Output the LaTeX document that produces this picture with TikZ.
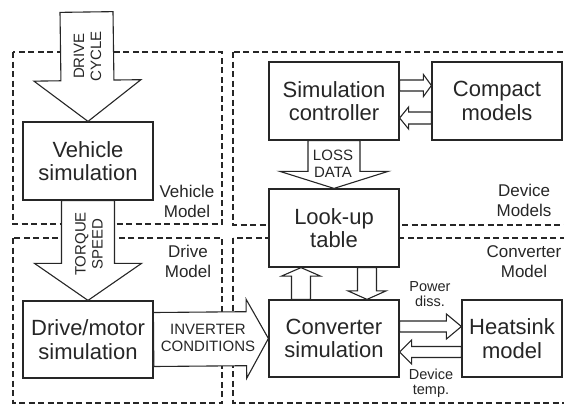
\documentclass[tikz,border=0pt]{standalone}
\usepackage{fontspec}
\setmainfont{Liberation Sans}
\usetikzlibrary{calc}
\definecolor{ink}{HTML}{262626}

% block arrow: start, tip, shaft half-width, head half-width, head length
\newcommand{\blockarrow}[5]{%
  \coordinate (ba-h) at ($(#2)!#5!(#1)$);
  \draw[barrow] ($(#1)!#3!90:(#2)$) -- ($(ba-h)!#3!90:(#2)$)
    -- ($(ba-h)!#4!90:(#2)$) -- (#2) -- ($(ba-h)!#4!-90:(#2)$)
    -- ($(ba-h)!#3!-90:(#2)$) -- ($(#1)!#3!-90:(#2)$) -- cycle;
}

\tikzset{
  zone/.style={draw=ink, line width=1.2pt, dash pattern=on 6pt off 3.5pt},
  box/.style={draw=ink, line width=1.2pt, fill=white, inner sep=0pt,
    minimum width=#1, minimum height=78pt, align=center, text=ink,
    font=\fontsize{22}{23.5}\selectfont},
  box/.default=130pt,
  barrow/.style={draw=ink, line width=1.1pt, fill=white, line join=miter},
  % multi-line labels: the base anchor sits on the last line
  zonelabel/.style={align=center, anchor=base, text=ink,
    font=\fontsize{17}{19.5}\selectfont, inner sep=0pt},
  arrowtext/.style={align=center, text=ink, inner sep=0pt,
    font=\fontsize{15}{17}\selectfont},
  smalltext/.style={align=center, anchor=base, text=ink, inner sep=0pt,
    font=\fontsize{14.5}{14.5}\selectfont},
}

\begin{document}
\begin{tikzpicture}[x=1pt, y=-1pt]
\useasboundingbox (0,0) rectangle (564,405);
\clip (0,0) rectangle (564,405);

% model zones
\draw[zone] (13,52) rectangle (222,224);
\draw[zone] (13,238) rectangle (222,403);
\draw[zone] (233,52) rectangle (600,225);
\draw[zone] (233,238) rectangle (600,403);

% blocks
\node[box] (vehsim) at (88,161) {Vehicle\\simulation};
\node[box, minimum height=77pt] (drivesim) at (88,339.5) {Drive/motor\\simulation};
\node[box] (simctrl) at (334,101) {Simulation\\controller};
\node[box] (compact) at (497,101) {Compact\\models};
\node[box] (lookup) at (334,228) {Look-up\\table};
\node[box, minimum height=77pt] (conv) at (334,338.5) {Converter\\simulation};
\node[box=100pt, minimum height=77pt] (heat) at (512,338.5) {Heatsink\\model};

% arrow end points
\coordinate (cycletop) at (86.5,12);
\coordinate (upA) at ([xshift=-33pt]conv.north);
\coordinate (upB) at ([xshift=-33pt]lookup.south);
\coordinate (dnA) at ([xshift=33pt]lookup.south);
\coordinate (dnB) at ([xshift=33pt]conv.north);
\coordinate (cmA) at ([yshift=15.5pt]simctrl.east);
\coordinate (cmB) at ([yshift=15.5pt]compact.west);
\coordinate (cbA) at ([yshift=-17pt]compact.west);
\coordinate (cbB) at ([yshift=-17pt]simctrl.east);
\coordinate (pwA) at ([yshift=12pt]conv.east);
\coordinate (pwB) at ([yshift=12pt]heat.west);
\coordinate (dtA) at ([yshift=-13.5pt]heat.west);
\coordinate (dtB) at ([yshift=-13.5pt]conv.east);

% block arrows
\blockarrow{cycletop}{vehsim.north}{26.5pt}{53.5pt}{41pt}
\blockarrow{vehsim.south}{drivesim.north}{26.5pt}{53.5pt}{37pt}
\blockarrow{drivesim.east}{conv.west}{27pt}{39.5pt}{22pt}
\blockarrow{simctrl.south}{lookup.north}{26pt}{54pt}{17pt}
\blockarrow{upA}{upB}{9.5pt}{19.5pt}{8.5pt}
\blockarrow{dnA}{dnB}{9.5pt}{19pt}{8.5pt}
\blockarrow{cmA}{cmB}{5.5pt}{11pt}{8pt}
\blockarrow{cbA}{cbB}{6pt}{11pt}{9pt}
\blockarrow{pwA}{pwB}{5.5pt}{12.5pt}{15pt}
\blockarrow{dtA}{dtB}{5.5pt}{12pt}{12pt}

% arrow labels
\node[arrowtext, rotate=90] (cyclelbl) at (87.5,56) {DRIVE\\CYCLE};
\node[arrowtext, rotate=90] (torquelbl) at (89,244) {TORQUE\\SPEED};
\node[arrowtext, anchor=base] (losslbl) at (333,177) {LOSS\\DATA};
\node[arrowtext, anchor=base] (invlbl) at (208,351) {INVERTER\\CONDITIONS};
\node[smalltext] (pwlbl) at (430,306) {Power\\diss.};
\node[smalltext] (dtlbl) at (431,394) {Device\\temp.};

% zone labels
\node[zonelabel] (vehlbl) at (187,217) {Vehicle\\Model};
\node[zonelabel] (drvlbl) at (188,277) {Drive\\Model};
\node[zonelabel] (devlbl) at (524,216) {Device\\Models};
\node[zonelabel] (cnvlbl) at (524,277) {Converter\\Model};
\end{tikzpicture}
\end{document}
